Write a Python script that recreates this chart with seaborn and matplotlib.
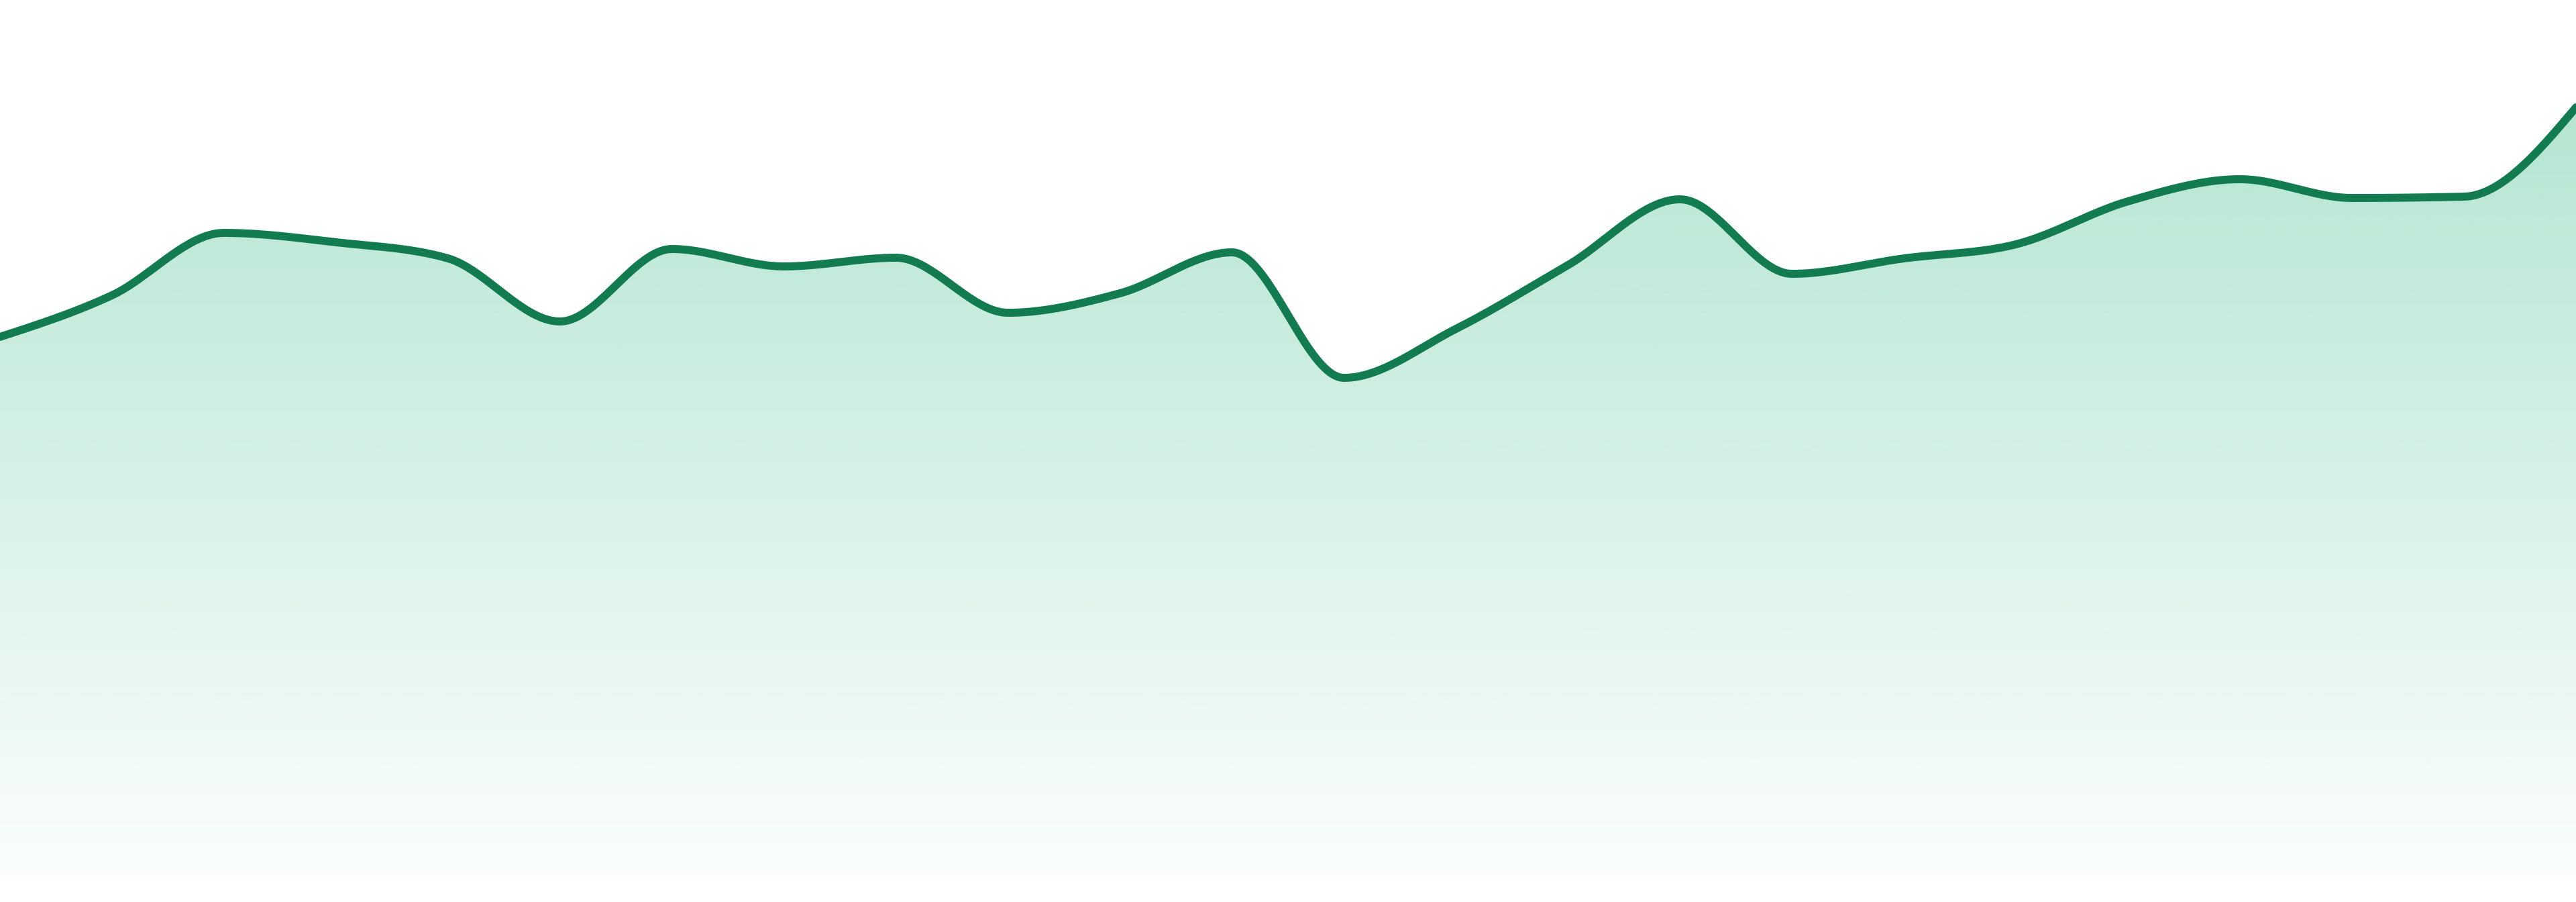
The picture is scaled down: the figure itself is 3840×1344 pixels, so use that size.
import numpy as np
import pandas as pd
import seaborn as sns
import matplotlib
matplotlib.use("Agg")
import matplotlib.pyplot as plt
from matplotlib.patches import Polygon

sns.set_style("white")

# ----- data -----
periods = list(range(24))
values = [80.3, 86.5, 95.8, 94.4, 92.0, 82.6, 93.4, 90.8, 92.1, 83.9, 86.8, 92.9,
          74.2, 81.5, 91.0, 100.8, 89.7, 92.0, 94.1, 100.5, 103.8, 101.0, 101.2, 114.5]

line_color = "#127c50"
fill_rgb = (26 / 255, 176 / 255, 116 / 255)


def monotone_x(x, y, n=40):
    # d3 curveMonotoneX style smoothing between the data points
    x = np.asarray(x, float)
    y = np.asarray(y, float)
    h = np.diff(x)
    s = np.diff(y) / h
    t = np.zeros_like(y)
    for i in range(1, len(y) - 1):
        s0, s1 = s[i - 1], s[i]
        p = (s0 * h[i] + s1 * h[i - 1]) / (h[i - 1] + h[i])
        t[i] = (np.sign(s0) + np.sign(s1)) * min(abs(s0), abs(s1), 0.5 * abs(p))
    t[0] = (3 * s[0] - t[1]) / 2
    t[-1] = (3 * s[-1] - t[-2]) / 2
    xs, ys = [], []
    for i in range(len(h)):
        u = np.linspace(0, 1, n, endpoint=(i == len(h) - 1))
        h00 = 2 * u**3 - 3 * u**2 + 1
        h10 = u**3 - 2 * u**2 + u
        h01 = -2 * u**3 + 3 * u**2
        h11 = u**3 - u**2
        xs.append(x[i] + u * h[i])
        ys.append(h00 * y[i] + h10 * h[i] * t[i] + h01 * y[i + 1] + h11 * h[i] * t[i + 1])
    return np.concatenate(xs), np.concatenate(ys)


xs, ys = monotone_x(periods, values)
df = pd.DataFrame({"period": xs, "value": ys})

W, H = 3840, 1344
base_px = 1305
fig = plt.figure(figsize=(W / 100, H / 100), dpi=100)
ax = fig.add_axes([0, (H - base_px) / H, 1, base_px / H])
ymax = base_px / 10.0

# gradient fill under the curve
top = max(values)
grad = np.linspace(0, 1, 400)[:, None]
rgba = np.zeros((400, 1, 4))
rgba[..., 0], rgba[..., 1], rgba[..., 2] = fill_rgb
rgba[..., 3] = 0.019 + 0.306 * grad
im = ax.imshow(rgba, extent=[periods[0], periods[-1], 0, top], origin="lower",
               aspect="auto", interpolation="bilinear", zorder=1)
poly = Polygon(np.column_stack([np.r_[xs, xs[-1], xs[0]], np.r_[ys, 0, 0]]),
               closed=True, facecolor="none", edgecolor="none")
ax.add_patch(poly)
im.set_clip_path(poly)

sns.lineplot(data=df, x="period", y="value", ax=ax, color=line_color,
             linewidth=8.6, sort=False, estimator=None, zorder=3)

ax.set_xlim(periods[0], periods[-1])
ax.set_ylim(0, ymax)
ax.set_axis_off()

fig.savefig("out.png", dpi=100, facecolor="white")
